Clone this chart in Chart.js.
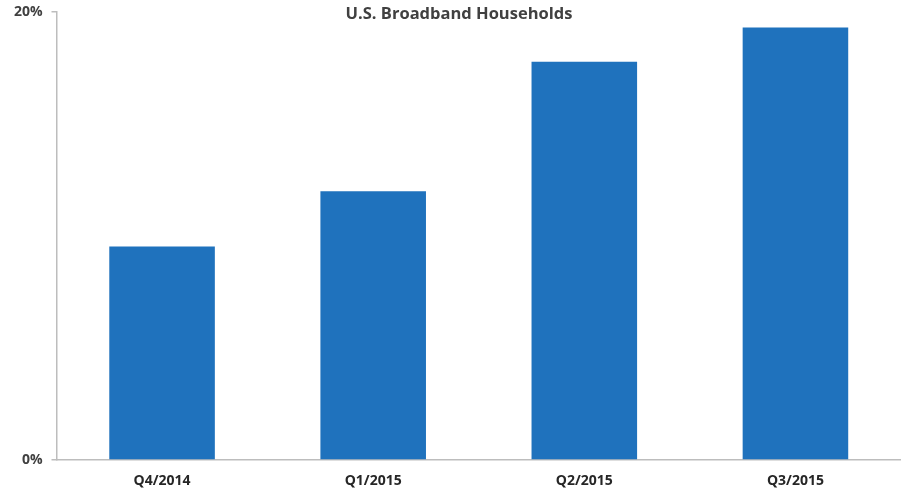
<!DOCTYPE html>
<html>
<head>
<meta charset="utf-8">
<script src="https://cdn.jsdelivr.net/npm/chart.js@4/dist/chart.umd.min.js"></script>
<style>
  html, body { margin: 0; padding: 0; background: #ffffff; }
  #wrap { width: 901px; height: 491px; position: relative; }
</style>
</head>
<body>
<div id="wrap"><canvas id="c" width="901" height="491"></canvas></div>
<script>
const categories = ['Q4/2014', 'Q1/2015', 'Q2/2015', 'Q3/2015'];
const shareValues = [9.53, 12.0, 17.78, 19.31];
const yTickValues = [0, 20];
const chartTitle = 'U.S. Broadband Households';

const textColor = '#404040';
const axisColor = '#bdbdbd';

const titlePlugin = {
  id: 'customTitle',
  afterDraw(chart) {
    const ctx = chart.ctx;
    ctx.save();
    ctx.font = 'bold 16.5px "Open Sans", sans-serif';
    ctx.fillStyle = textColor;
    ctx.textAlign = 'center';
    ctx.textBaseline = 'alphabetic';
    ctx.fillText(chartTitle, 459, 19);
    ctx.restore();
  }
};

new Chart(document.getElementById('c'), {
  type: 'bar',
  data: {
    labels: categories,
    datasets: [{
      data: shareValues,
      backgroundColor: '#1F72BD',
      borderWidth: 0,
      barPercentage: 0.5,
      categoryPercentage: 1.0
    }]
  },
  options: {
    responsive: false,
    animation: false,
    devicePixelRatio: 1,
    layout: { padding: { top: 12, right: 0, left: 0, bottom: 0 } },
    plugins: {
      legend: { display: false },
      title: { display: false },
      tooltip: { enabled: false }
    },
    scales: {
      x: {
        grid: { display: false },
        border: { display: true, color: axisColor, width: 1.5 },
        ticks: {
          color: '#262626',
          font: { family: '"Open Sans", sans-serif', size: 14, weight: 'bold' },
          padding: 5
        },
        afterFit(scale) { scale.height = 31; }
      },
      y: {
        min: 0,
        max: 20,
        afterBuildTicks(scale) { scale.ticks = yTickValues.map(v => ({ value: v })); },
        grid: {
          display: true,
          drawOnChartArea: false,
          drawTicks: true,
          tickLength: 5,
          color: axisColor,
          lineWidth: 1.5
        },
        border: { display: true, color: axisColor, width: 1.5 },
        ticks: {
          color: textColor,
          font: { family: '"Open Sans", sans-serif', size: 14, weight: 'bold' },
          padding: 9,
          callback: (v) => v + '%'
        },
        afterFit(scale) {
          scale.width = 56.5;
          scale.paddingTop = 0;
          scale.paddingBottom = 0;
        }
      }
    }
  },
  plugins: [titlePlugin]
});
</script>
</body>
</html>
